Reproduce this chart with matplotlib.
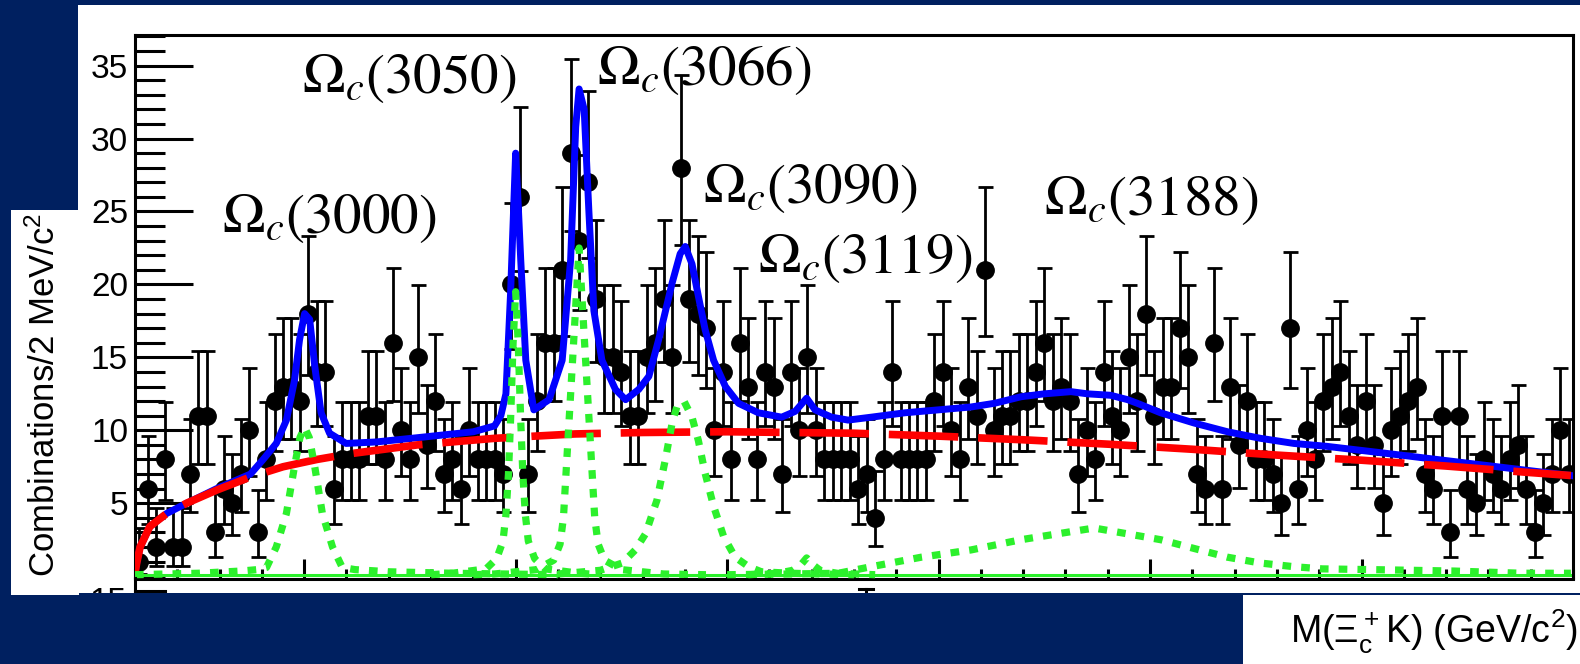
import numpy as np
import matplotlib
matplotlib.use('Agg')
import matplotlib.pyplot as plt
from matplotlib.patches import Rectangle
from matplotlib.lines import Line2D
from matplotlib.ticker import MultipleLocator

plt.rcParams['font.family'] = ['Liberation Sans', 'DejaVu Sans']

# histogram: 2 MeV bins from 2.960 GeV, counts
bin_lo = 2.960
bin_w = 0.002
counts = [1, 6, 2, 8, 2, 2, 7, 11, 11, 3,
          6, 5, 7, 10, 3, 8, 12, 13, 13, 12,
          18, 14, 14, 6, 8, 8, 8, 11, 11, 8,
          16, 10, 8, 15, 9, 12, 7, 8, 6, 10,
          8, 8, 8, 7, 20, 26, 7, 12, 16, 16,
          21, 29, 23, 27, 19, 15, 15, 14, 11, 11,
          15, 16, 19, 15, 28, 19, 18, 17, 10, 14,
          8, 16, 13, 8, 14, 13, 7, 14, 10, 15,
          10, 8, 8, 8, 8, 6, 7, 4, 8, 14,
          8, 8, 8, 8, 12, 14, 10, 8, 13, 11,
          21, 10, 11, 11, 12, 12, 14, 16, 12, 13,
          12, 7, 10, 8, 14, 11, 10, 15, 12, 18,
          11, 13, 13, 17, 15, 7, 6, 16, 6, 13,
          9, 12, 8, 8, 7, 5, 17, 6, 10, 8,
          12, 13, 14, 11, 9, 12, 9, 5, 10, 11,
          12, 13, 7, 6, 11, 3, 11, 6, 5, 8,
          7, 6, 8, 9, 6, 3, 5, 7, 10, 7]

# total fit (MeV, entries)
total_m = [2960.0, 2960.4, 2961.2, 2963.5, 2967.5, 2972.2, 2979.3, 2987.3, 2990.3, 2993.4,
           2995.8, 2997.7, 2998.9, 3000.1, 3001.3, 3002.5, 3004.0, 3006.0, 3009.9, 3017.0,
           3027.0, 3040.0, 3045.0, 3046.5, 3047.7, 3048.8, 3049.5, 3050.0, 3050.6, 3051.2,
           3052.4, 3054.3, 3057.9, 3061.0, 3063.0, 3064.2, 3065.0, 3066.2, 3067.3, 3068.5,
           3070.4, 3073.6, 3076.0, 3079.1, 3081.5, 3083.8, 3087.0, 3088.9, 3090.1, 3091.7,
           3093.2, 3094.8, 3096.8, 3099.6, 3102.7, 3107.4, 3112.9, 3116.1, 3118.8, 3120.8,
           3124.7, 3128.6, 3134.1, 3142.0, 3149.9, 3157.7, 3163.2, 3169.5, 3175.0, 3181.3,
           3185.2, 3190.7, 3194.7, 3197.0, 3202.5, 3210.4, 3218.3, 3226.1, 3234.0, 3241.8,
           3256.4, 3272.1, 3287.8, 3299.5]
total_v = [0.2, 0.9, 2.0, 3.4, 4.3, 5.0, 6.0, 7.0, 8.0, 9.1,
           10.7, 13.4, 16.2, 18.0, 17.6, 14.4, 11.2, 9.8, 9.1, 9.2,
           9.5, 9.9, 10.3, 11.0, 12.5, 19.4, 25.0, 29.0, 25.5, 21.7,
           14.8, 11.4, 12.1, 14.8, 21.7, 30.8, 33.4, 32.0, 25.1, 18.2,
           14.8, 12.8, 12.1, 12.8, 13.7, 16.2, 20.1, 22.1, 22.6, 21.4,
           19.2, 16.9, 14.8, 13.0, 11.85, 11.2, 10.9, 11.3, 12.2, 11.4,
           10.9, 10.7, 10.9, 11.2, 11.4, 11.6, 11.85, 12.3, 12.5, 12.65,
           12.5, 12.4, 12.1, 11.85, 11.2, 10.5, 9.9, 9.45, 9.1, 8.9,
           8.4, 7.85, 7.3, 6.9]

# background
bkg_m = [2960.0, 2960.4, 2961.2, 2963.5, 2967.5, 2972.2, 2979.3, 2987.3, 2995.0, 3003.0,
         3011.0, 3026.8, 3045.0, 3064.0, 3080.0, 3100.0, 3130.0, 3150.0, 3170.0, 3190.0,
         3210.0, 3230.0, 3250.0, 3270.0, 3290.0, 3299.5]
bkg_v = [0.2, 0.9, 2.0, 3.4, 4.3, 5.0, 5.9, 6.8, 7.5, 8.0,
         8.4, 9.0, 9.45, 9.75, 9.85, 9.9, 9.8, 9.6, 9.35, 9.05,
         8.7, 8.3, 7.95, 7.55, 7.1, 6.9]

# signal components
sig3000_m = [2960, 2975, 2985, 2989, 2991.1, 2993.4, 2995.8, 2997.7, 2999.0, 3000.1,
             3001.2, 3002.5, 3004.3, 3006.7, 3009.0, 3012, 3020, 3035, 3060]
sig3000_v = [0.1, 0.2, 0.35, 0.45, 0.6, 2.0, 4.3, 7.5, 9.5, 10.2,
             9.5, 7.5, 4.3, 2.0, 0.6, 0.45, 0.3, 0.2, 0.1]
sig3050_m = [3030, 3035, 3043, 3045.5, 3047.0, 3047.7, 3048.3, 3048.8, 3049.4, 3050.0,
             3050.6, 3051.2, 3051.7, 3052.3, 3053.0, 3054.5, 3057, 3065, 3070]
sig3050_v = [0.1, 0.2, 0.5, 1.2, 2.4, 4.2, 7.0, 10.7, 16.0, 19.5,
             16.0, 10.7, 7.0, 4.2, 2.4, 1.2, 0.5, 0.2, 0.1]
sig3066_m = [3040, 3045, 3055, 3059, 3060.5, 3061.3, 3062.0, 3062.7, 3063.8, 3065.0,
             3066.2, 3067.3, 3068.0, 3068.7, 3069.5, 3071, 3075, 3085, 3095]
sig3066_v = [0.1, 0.15, 0.45, 1.1, 2.2, 4.0, 7.5, 11.0, 16.5, 22.5,
             16.5, 11.0, 7.5, 4.0, 2.2, 1.1, 0.45, 0.15, 0.1]
sig3090_m = [3060, 3070, 3075.2, 3078.3, 3080.7, 3083.4, 3085.4, 3087.0, 3088.1, 3089.8,
             3091.7, 3093.2, 3094.8, 3096.8, 3099.2, 3101.9, 3105.1, 3108.1, 3115, 3130]
sig3090_v = [0.15, 0.4, 0.9, 1.8, 2.9, 5.2, 8.0, 10.5, 11.6, 12.0,
             10.9, 9.3, 7.05, 4.8, 2.7, 1.3, 0.65, 0.3, 0.2, 0.1]
sig3119_m = [3105, 3112, 3115.5, 3117.5, 3118.8, 3120.2, 3122, 3126, 3135]
sig3119_v = [0.1, 0.2, 0.4, 0.8, 1.25, 0.8, 0.4, 0.2, 0.1]
sig3188_m = [3100, 3115, 3126.3, 3134.1, 3145.9, 3157.7, 3169.5, 3181.3, 3186.8, 3194.7,
             3202.5, 3210.4, 3218.3, 3226.1, 3234.0, 3240.7, 3256.4, 3272, 3287.8, 3299.5]
sig3188_v = [0.1, 0.15, 0.2, 0.65, 1.3, 1.8, 2.5, 3.05, 3.3, 2.9,
             2.5, 1.9, 1.3, 0.9, 0.65, 0.5, 0.43, 0.35, 0.2, 0.2]

state_labels = [r'$\Omega_c$(3000)', r'$\Omega_c$(3050)', r'$\Omega_c$(3066)',
                r'$\Omega_c$(3090)', r'$\Omega_c$(3119)', r'$\Omega_c$(3188)']

W, H = 1580, 664
navy = '#002060'
green = '#2cf02c'

def fx(px):
    return px / W

def fy(py):
    return 1 - py / H

fig = plt.figure(figsize=(W / 100, H / 100), dpi=100)
fig.patch.set_facecolor(navy)

def box(x0, y0, x1, y1, color, z):
    fig.add_artist(Rectangle((fx(x0), fy(y1)), fx(x1) - fx(x0), fy(y0) - fy(y1),
                             transform=fig.transFigure, facecolor=color,
                             edgecolor='none', zorder=z))

def seg(xs, ys, z=6):
    fig.add_artist(Line2D([fx(v) for v in xs], [fy(v) for v in ys], color='black',
                          lw=2.2, transform=fig.transFigure, zorder=z))

# white pieces of the slide
box(78, 5, 1580, 593, 'white', -10)
box(11, 210, 79, 595, 'white', -10)
box(1243, 595, 1580, 664, 'white', -10)

ax = fig.add_axes([fx(135), fy(578.5), fx(1573) - fx(135), fy(35) - fy(578.5)])

centers = bin_lo + bin_w * (np.arange(len(counts)) + 0.5)
n = np.array(counts, dtype=float)
err_lo = np.sqrt(n - 0.25)
err_up = np.sqrt(n + 0.75) + 1

ax.errorbar(centers, n, yerr=[err_lo, err_up], fmt='o', color='black', ms=12.5,
            elinewidth=2.0, capsize=5.4, capthick=2.0, zorder=2)

ax.axhline(0.08, color=green, lw=2.2, zorder=2.5)
ax.plot(np.array(total_m) / 1000, total_v, color='#0000ff', lw=5.0,
        solid_joinstyle='round', zorder=3)
ax.plot(np.array(bkg_m) / 1000, bkg_v, color='#ff0000', lw=5.5,
        dashes=(9.1, 2.6), zorder=4)
for sm, sv in [(sig3000_m, sig3000_v), (sig3050_m, sig3050_v), (sig3066_m, sig3066_v),
               (sig3090_m, sig3090_v), (sig3119_m, sig3119_v), (sig3188_m, sig3188_v)]:
    ax.plot(np.array(sm) / 1000, sv, color=green, lw=5.2, dashes=(1.2, 1.4), zorder=5)

ax.set_xlim(2.96, 3.30)
ax.set_ylim(-0.16, 37.1)
ax.set_xticks([3.00, 3.05, 3.10, 3.15, 3.20, 3.25])
ax.xaxis.set_minor_locator(MultipleLocator(0.01))
ax.set_yticks([5, 10, 15, 20, 25, 30, 35])
ax.yaxis.set_minor_locator(MultipleLocator(1))
ax.tick_params(axis='x', which='both', labelbottom=False, direction='in', width=2.2)
ax.tick_params(axis='x', which='major', length=14.4)
ax.tick_params(axis='x', which='minor', length=7.2)
ax.tick_params(axis='y', which='both', direction='in', width=2.2)
ax.tick_params(axis='y', which='major', length=41.8, labelsize=24, pad=5)
ax.tick_params(axis='y', which='minor', length=21.6)
for sp in ax.spines.values():
    sp.set_linewidth(2.2)

# axis titles sit on their own white boxes
fig.text(fx(45), fy(395), r'Combinations/2 MeV/c$\mathregular{^2}$', rotation=90,
         ha='center', va='center', fontsize=25)
fig.text(fx(1578), fy(643), r'M($\mathregular{\Xi_c^+}$K) (GeV/c$\mathregular{^2}$)',
         ha='right', va='baseline', fontsize=27)

# state names
label_pos = [(222, 233), (302, 93), (597, 85), (703, 203), (758, 273), (1044, 215)]
for lab, (px, py) in zip(state_labels, label_pos):
    fig.text(fx(px), fy(py), lab, ha='left', va='baseline', fontsize=41,
             fontfamily='STIXGeneral', math_fontfamily='stix', zorder=8)

# bits of the panel below that peek out
fig.text(fx(127), fy(611), '15', ha='right', va='baseline', fontsize=24, zorder=5)
seg([135, 135], [578, 595])
seg([135, 165], [591, 591])
seg([859, 873], [589, 589])
seg([866, 866], [589, 595])
box(79, 593, 1243, 664, navy, 20)

fig.savefig('out.png', dpi=100, facecolor=fig.get_facecolor())
